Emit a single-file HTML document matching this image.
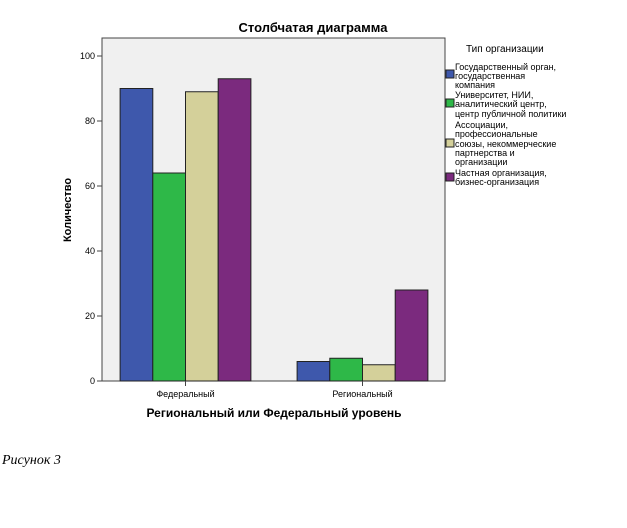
<!DOCTYPE html>
<html><head><meta charset="utf-8"><style>
body{margin:0;background:#fff;width:627px;height:528px;overflow:hidden;font-family:"Liberation Sans",sans-serif}
</style></head><body>
<svg width="627" height="528" style="position:absolute;left:0;top:0">
<text x="313" y="32" text-anchor="middle" font-size="13" font-weight="bold">Столбчатая диаграмма</text>
<rect x="102" y="38" width="343" height="343" fill="#f0f0f0" stroke="#444"/>
<g id="bars"></g>
<g id="axes"></g>
<text transform="translate(71,210) rotate(-90)" text-anchor="middle" font-size="11" font-weight="bold">Количество</text>
<text x="274" y="417" text-anchor="middle" font-size="12" font-weight="bold">Региональный или Федеральный уровень</text>
<g font-size="9">
<text x="466" y="52" font-size="10">Тип организации</text>
<g><rect x="446" y="70" width="8" height="8" fill="#3e58ac" stroke="#222"/><text x="455" y="70">Государственный орган,</text><text x="455" y="79">государственная</text><text x="455" y="88">компания</text></g>
<g><rect x="446" y="99" width="8" height="8" fill="#2eb848" stroke="#222"/><text x="455" y="98">Университет, НИИ,</text><text x="455" y="107">аналитический центр,</text><text x="455" y="117">центр публичной политики</text></g>
<g><rect x="446" y="139" width="8" height="8" fill="#d4d09a" stroke="#222"/><text x="455" y="128">Ассоциации,</text><text x="455" y="137">профессиональные</text><text x="455" y="147">союзы, некоммерческие</text><text x="455" y="156">партнерства и</text><text x="455" y="165">организации</text></g>
<g><rect x="446" y="173" width="8" height="8" fill="#7b2a7e" stroke="#222"/><text x="455" y="176">Частная организация,</text><text x="455" y="185">бизнес-организация</text></g>
</g>
<text x="2" y="464" font-size="14" font-style="italic" font-family="Liberation Serif,serif">Рисунок 3</text>
</svg>
<script>
const categories=["Федеральный","Региональный"];
const gov=[90,6];
const univ=[64,7];
const assoc=[89,5];
const priv=[93,28];
const yTicks=[0,20,40,60,80,100];
const seriesNames=["gov","univ","assoc","private"];
const colors=["#3e58ac","#2eb848","#d4d09a","#7b2a7e"];
const NS="http://www.w3.org/2000/svg";
const y=v=>381-v*3.25;
const x0=c=>185.5+c*177;
const bw=32.7;
const series=[gov,univ,assoc,priv];
const bars=document.getElementById('bars'),axes=document.getElementById('axes');
series.forEach((s,si)=>s.forEach((v,ci)=>{
 const r=document.createElementNS(NS,'rect');
 r.setAttribute('x',x0(ci)-2*bw+si*bw);r.setAttribute('y',y(v));
 r.setAttribute('width',bw);r.setAttribute('height',y(0)-y(v));
 r.setAttribute('fill',colors[si]);r.setAttribute('stroke','#222');
 
 
 bars.appendChild(r);}));
yTicks.forEach(t=>{
 const l=document.createElementNS(NS,'line');
 l.setAttribute('x1',97);l.setAttribute('x2',102);l.setAttribute('y1',y(t));l.setAttribute('y2',y(t));l.setAttribute('stroke','#444');
 
 
 axes.appendChild(l);
 const tx=document.createElementNS(NS,'text');
 tx.setAttribute('x',95);tx.setAttribute('y',y(t)+3);tx.setAttribute('text-anchor','end');tx.setAttribute('font-size','9');
 tx.textContent=t;
 
 
 axes.appendChild(tx);});
categories.forEach((c,i)=>{
 const l=document.createElementNS(NS,'line');
 l.setAttribute('x1',x0(i));l.setAttribute('x2',x0(i));l.setAttribute('y1',381);l.setAttribute('y2',386);l.setAttribute('stroke','#444');
 
 
 axes.appendChild(l);
 const tx=document.createElementNS(NS,'text');
 tx.setAttribute('x',x0(i));tx.setAttribute('y',397);tx.setAttribute('text-anchor','middle');tx.setAttribute('font-size','9');
 tx.textContent=c;
 
 
 axes.appendChild(tx);});
</script>
</body></html>
